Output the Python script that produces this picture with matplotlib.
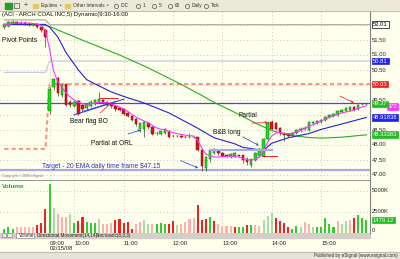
import matplotlib
matplotlib.use("Agg")
import matplotlib.pyplot as plt
import numpy as np
from matplotlib.transforms import blended_transform_factory

plt.rcParams["font.family"] = ["Liberation Sans", "DejaVu Sans"]

W, H = 400, 259

# 5-minute bars: 11 from the previous session, then 02/15/08 9:30-15:55
bar_open = [51.92, 51.98, 52.05, 52.10, 52.05, 52.08, 52.05, 52.00, 52.03, 51.93, 51.85,
            49.15, 49.92, 50.22, 49.68, 50.03, 49.45, 49.31, 49.47, 49.32, 49.22,
            49.30, 49.38, 49.43, 49.50, 49.44, 49.38, 49.31, 49.22, 49.20, 49.08,
            48.98, 48.86, 48.55, 48.52, 48.75, 48.60, 48.40, 48.36, 48.40, 48.48,
            48.30, 48.29, 48.30, 48.28, 48.27, 48.28, 48.26, 47.85, 47.25, 47.55,
            47.75, 47.80, 47.72, 47.66, 47.62, 47.64, 47.66, 47.66, 47.55, 47.33,
            47.50, 47.62, 47.65, 48.20, 48.78, 48.75, 48.58, 48.38, 48.36, 48.32,
            48.40, 48.50, 48.55, 48.50, 48.72, 48.75, 48.78, 48.82, 48.93, 48.98,
            49.00, 49.10, 49.14, 49.17, 49.26, 49.20, 49.36, 49.38]
bar_high = [52.05, 52.15, 52.17, 52.15, 52.12, 52.12, 52.10, 52.08, 52.06, 51.97, 51.88,
            49.92, 50.25, 50.28, 50.05, 50.05, 49.50, 49.50, 49.50, 49.36, 49.38,
            49.50, 49.52, 49.76, 49.55, 49.48, 49.42, 49.34, 49.25, 49.22, 49.12,
            49.00, 48.90, 48.75, 48.80, 48.78, 48.62, 48.44, 48.48, 48.56, 48.50,
            48.33, 48.32, 48.32, 48.30, 48.40, 48.30, 48.28, 47.88, 47.65, 47.88,
            47.90, 47.84, 47.76, 47.70, 47.74, 47.76, 47.68, 47.68, 47.60, 47.55,
            47.78, 47.90, 48.25, 48.80, 48.82, 48.78, 48.60, 48.42, 48.40, 48.43,
            48.53, 48.60, 48.62, 48.80, 48.80, 48.84, 48.87, 48.97, 49.03, 49.06,
            49.14, 49.21, 49.27, 49.30, 49.30, 49.36, 49.40, 49.40]
bar_low = [51.88, 51.95, 52.02, 52.00, 52.02, 52.00, 51.97, 51.98, 51.90, 51.78, 51.28,
           49.05, 49.85, 49.65, 49.60, 49.30, 49.28, 49.28, 49.00, 49.15, 49.18,
           49.28, 49.35, 49.40, 49.38, 49.30, 49.25, 49.15, 49.12, 49.00, 48.93,
           48.80, 48.65, 48.45, 48.28, 48.55, 48.33, 48.35, 48.33, 48.37, 48.25,
           48.26, 48.26, 48.25, 48.24, 48.22, 48.22, 47.80, 47.15, 47.15, 47.45,
           47.70, 47.68, 47.60, 47.60, 47.58, 47.60, 47.62, 47.40, 47.35, 47.28,
           47.48, 47.60, 47.60, 48.15, 48.50, 48.50, 48.35, 48.15, 48.27, 48.28,
           48.37, 48.45, 48.50, 48.48, 48.68, 48.70, 48.74, 48.80, 48.90, 48.95,
           48.98, 49.07, 49.12, 49.15, 49.14, 49.18, 49.34, 49.36]
bar_close = [52.02, 52.10, 52.10, 52.05, 52.08, 52.04, 52.00, 52.05, 51.93, 51.82, 51.60,
             49.87, 50.20, 49.72, 50.00, 49.33, 49.32, 49.45, 49.03, 49.20, 49.36,
             49.45, 49.50, 49.52, 49.42, 49.35, 49.30, 49.20, 49.17, 49.05, 48.97,
             48.84, 48.70, 48.72, 48.78, 48.60, 48.38, 48.39, 48.45, 48.52, 48.28,
             48.29, 48.30, 48.28, 48.27, 48.28, 48.26, 47.85, 47.30, 47.60, 47.85,
             47.87, 47.72, 47.65, 47.64, 47.70, 47.72, 47.65, 47.50, 47.42, 47.52,
             47.75, 47.85, 48.20, 48.75, 48.55, 48.55, 48.40, 48.35, 48.30, 48.40,
             48.50, 48.55, 48.58, 48.76, 48.76, 48.80, 48.82, 48.94, 49.00, 49.02,
             49.12, 49.18, 49.24, 49.27, 49.16, 49.33, 49.37, 49.37]

# volume in thousands, tone: G up, g light up, R down, r light down
volume_k = [400, 675, 475, 675, 600, 600, 600, 675, 875, 1190, 2780,
            5760, 2860, 2260, 1790, 1900, 2220, 1190, 1390, 1900, 1270,
            1110, 1190, 1590, 990, 990, 1190, 1470, 1590, 1110, 1270,
            475, 1070, 1270, 1430, 1070, 1070, 990, 1190, 1070, 1070,
            1390, 875, 1070, 1270, 1590, 1670, 3300, 1510, 1590, 1900,
            1390, 990, 795, 795, 795, 600, 675, 600, 875, 875,
            875, 795, 1470, 1985, 2380, 1710, 1390, 1190, 600, 475,
            795, 675, 1270, 1070, 675, 600, 600, 1670, 1070, 675,
            1390, 990, 1390, 1510, 1670, 2060, 1670, 1479.12]
volume_tone = ("GGGrrrrrRRRGgrrrgGRRGGGgrrrRRRRRrrggrGGGRRgrrrrRRRGRrrrrRGGRGrrggg"
               "RRRRGGgrrgGGGGGrggrRGGG")

# fast average (magenta), one value per bar
fast_avg = [52.00, 52.02, 52.05, 52.06, 52.07, 52.07, 52.06, 52.05, 52.03, 51.98, 51.82,
            51.20, 50.45, 50.12, 49.92, 49.74, 49.60, 49.50, 49.42, 49.38, 49.36,
            49.37, 49.40, 49.42, 49.42, 49.40, 49.37, 49.32, 49.27, 49.20, 49.12,
            49.02, 48.93, 48.86, 48.80, 48.74, 48.65, 48.57, 48.53, 48.50, 48.45,
            48.41, 48.38, 48.35, 48.33, 48.31, 48.30, 48.15, 47.90, 47.70, 47.64,
            47.60, 47.60, 47.61, 47.62, 47.62, 47.61, 47.60, 47.56, 47.51, 47.49,
            47.53, 47.60, 47.80, 48.10, 48.30, 48.40, 48.42, 48.39, 48.37, 48.39,
            48.43, 48.48, 48.55, 48.62, 48.68, 48.73, 48.80, 48.86, 48.92, 48.98,
            49.03, 49.07, 49.10, 49.13, 49.17, 49.22, 49.27, 49.31]
# medium average (blue) and slow average (green), read at selected bars
mid_bars = [0, 10, 11, 13, 15, 18, 20, 23, 26, 29, 34, 40, 47, 51, 56, 58, 63, 65, 69, 74, 77, 82, 88]
mid_avg = [52.02, 52.02, 51.93, 51.60, 51.08, 50.50, 50.18, 49.97, 49.77, 49.62, 49.40, 49.07,
           48.56, 48.24, 48.04, 47.92, 47.82, 48.06, 48.24, 48.38, 48.52, 48.70, 48.92]
slow_bars = [0, 10, 11, 18, 28, 35, 43, 48, 51, 54, 57, 61, 65, 69, 74, 77, 82, 88]
slow_avg = [52.02, 51.99, 51.95, 51.55, 51.00, 50.57, 50.02, 49.65, 49.42, 49.22, 49.02,
            48.73, 48.48, 48.33, 48.25, 48.23, 48.26, 48.34]

# pivot levels: previous session -> today
pivot_top = [52.17, 52.01]
pivot_r1 = [50.42, 50.80]
pivot_pp = [47.87, 50.03]

hour_bars = [11, 17, 29, 41, 53, 65, 77]
hour_labels = ["09:00", "10:00", "11:00", "12:00", "13:00", "14:00", "15:00"]
price_ticks = [47.0, 47.5, 48.0, 48.5, 49.5, 50.5, 51.0, 51.5]

BG = "#ffffee"
X0, X1 = -1.045, 88.87

fig = plt.figure(figsize=(W / 100, H / 100), dpi=100, facecolor=BG)


def frac(x0, y0, x1, y1):
    return [x0 / W, 1 - y1 / H, (x1 - x0) / W, (y1 - y0) / H]


# pixel-space layer for window chrome
bg = fig.add_axes([0, 0, 1, 1], zorder=0)
bg.set_xlim(0, W)
bg.set_ylim(H, 0)
bg.axis("off")
bg.add_patch(plt.Rectangle((0, 0), W, 10.5, color="#ece9d8"))
bg.plot([0, W], [10.5, 10.5], color="#c0bcb0", lw=0.6)
bg.add_patch(plt.Rectangle((5, 2.5), 7, 6, color="#2a9a2a"))
bg.add_patch(plt.Rectangle((14, 3), 5, 5, fc="none", ec="#555555", lw=0.5))
bg.text(26, 5.5, "+", fontsize=5, ha="center", va="center", color="#333333")
for fx in (33, 65):
    bg.add_patch(plt.Rectangle((fx, 3.5), 5, 4, color="#e8c860"))
tb = dict(fontsize=3.4, va="center", color="#333333")
bg.text(41, 5.5, "Equities", **tb)
bg.text(60, 5.5, "\u2022", **tb)
bg.text(73, 5.5, "Other Intervals", **tb)
bg.text(107, 5.5, "\u2022", **tb)
for cx, lab in [(116, "IDC"), (138, "1"), (154, "5"), (170, "60"), (187, "Daily"), (206, "Tick")]:
    bg.plot(cx, 5.5, "o", mfc="none", mec="#555555", ms=3, mew=0.5)
    bg.text(cx + 4.5, 5.5, lab, **tb)

# tabs row, time axis, status bar
bg.add_patch(plt.Rectangle((0, 232.5), 370, 5.5, color="#d4d0c8"))
bg.add_patch(plt.Rectangle((1.5, 233.3), 4.5, 4, fc="#eeeeee", ec="#777777", lw=0.4))
bg.add_patch(plt.Rectangle((7, 233.3), 4.5, 4, fc="#eeeeee", ec="#777777", lw=0.4))
bg.add_patch(plt.Rectangle((16, 233), 18, 4.8, fc="#ffffff", ec="#777777", lw=0.4))
tab = dict(fontsize=3.3, va="center", color="#222222")
bg.text(19, 235.4, "Volume", **tab)
bg.text(37, 235.4, "Directional Movement(14,14)", **tab)
bg.text(96, 235.4, "Stochastic(8,3,3)", **tab)
bg.add_patch(plt.Rectangle((0, 251.5), W, 7.5, color="#e6e3da"))
bg.plot([0, W], [251.5, 251.5], color="#b8b4a8", lw=0.6)
bg.text(398, 255.5, "Published by eSignal (www.esignal.com)", fontsize=3.3,
        ha="right", va="center", color="#333333")
for hb, lab in zip(hour_bars, hour_labels):
    px = 4.3 + 4.115 * hb
    bg.text(px, 243.5, lab, fontsize=4.3, va="center", color="#222222")
bg.text(4.3 + 4.115 * hour_bars[0], 249, "02/15/08", fontsize=4.3, va="center", color="#222222")

# price panel
ax = fig.add_axes(frac(0, 11, 370, 178.5), zorder=2)
ax.set_facecolor(BG)
ax.set_xlim(X0, X1)
ax.set_ylim(48 + (145 - 178.5) / 30, 48 + (145 - 11) / 30)
for s in ax.spines.values():
    s.set_visible(False)
ax.spines["right"].set_visible(True)
ax.spines["right"].set_color("#808080")
ax.spines["right"].set_linewidth(0.8)
ax.spines["top"].set_visible(True)
ax.spines["top"].set_color("#b0b0b0")
ax.spines["top"].set_linewidth(0.6)
ax.set_xticks([])
ax.set_yticks([])

for p in np.arange(47.0, 52.01, 0.5):
    ax.axhline(p, color="#b8b8b8", lw=0.6, ls=(0, (1, 3)), zorder=1)
for hb in hour_bars:
    ax.axvline(hb, color="#b8b8b8", lw=0.6, ls=(0, (1, 3)), zorder=1)

# pivot steps
step_x = [0, 10, 11, X1]
ax.plot(step_x, [pivot_top[0], pivot_top[0], pivot_top[1], pivot_top[1]], color="#b4ac98", lw=0.9, zorder=2)
ax.plot(step_x, [pivot_r1[0], pivot_r1[0], pivot_r1[1], pivot_r1[1]], color="#c8c8e8", lw=0.9, zorder=2)
ax.plot(step_x, [pivot_pp[0], pivot_pp[0], pivot_pp[1], pivot_pp[1]], color="#ff9080", lw=1.5,
        ls=(0, (2, 1.5)), zorder=2)
ax.axhline(49.39, color="#4848e0", lw=0.9, zorder=2)
ax.axhline(47.17, color="#a8a8f0", lw=1.6, zorder=2)

idx = np.arange(len(bar_open))
ax.plot(slow_bars, slow_avg, color="#22b022", lw=0.8, zorder=3)
ax.plot(mid_bars, mid_avg, color="#2222dd", lw=0.8, zorder=3)
ax.plot(idx, fast_avg, color="#ff33ff", lw=0.8, zorder=6)

o, hi, lo, c = (np.array(v) for v in (bar_open, bar_high, bar_low, bar_close))
up = c > o + 0.005
dn = c < o - 0.005
flat = ~(up | dn)
ax.vlines(idx, lo, hi, color="#404040", lw=0.5, zorder=4)
ax.bar(idx[up], (c - o)[up], bottom=o[up], width=0.62, color="#18e018", edgecolor="#107010",
       lw=0.35, zorder=5)
ax.bar(idx[dn], (o - c)[dn], bottom=c[dn], width=0.62, color="#e01010", edgecolor="#801010",
       lw=0.35, zorder=5)
ax.hlines(c[flat], idx[flat] - 0.35, idx[flat] + 0.35, color="#303030", lw=0.7, zorder=5)

# annotations
ann = dict(fontsize=4.8, color="#111111", zorder=8)
ax.text(-0.6, 51.47, "Pivot Points", va="center", **ann)
ax.text(16.0, 48.80, "Bear flag BO", va="center", **ann)
ax.text(21.1, 48.05, "Partial at ORL", va="center", **ann)
ax.text(50.7, 48.42, "B&B long", va="center", **ann)
ax.text(56.8, 48.98, "Partial", va="center", **ann)
ax.text(9.2, 47.28, "Target - 20 EMA daily time frame $47.15", va="center", fontsize=4.8,
        color="#3333cc", zorder=8)
ax.text(-0.6, 46.97, "Copyright \u00a9 2008 eSignal", va="center", fontsize=2.6, color="#777777", zorder=8)
ax.text(-0.6, 52.35, "(ACI - ARCH COAL INC,5) Dynamic(9:30-16:00", va="center", fontsize=4.3,
        color="#111111", zorder=8)

ax.plot([16.9, 29.1], [49.00, 49.53], color="#2233ee", lw=0.7, zorder=7)
ax.plot([19.0, 27.0], [49.12, 49.45], color="#2233ee", lw=0.5, zorder=7)
ax.plot([23.3, 27.6], [49.56, 49.56], color="#ee2222", lw=0.7, zorder=7)
ax.plot([50.0, 65.0], [47.88, 47.88], color="#a8a8ee", lw=0.8, zorder=7)
ax.plot([50.0, 65.0], [47.84, 47.84], color="#a8a8ee", lw=0.8, zorder=7)
ax.plot([62.6, 66.3], [47.63, 47.63], color="#ee2222", lw=0.7, zorder=7)


def arrow(tail, head, color):
    ax.annotate("", xy=head, xytext=tail, zorder=8,
                arrowprops=dict(arrowstyle="->", color=color, lw=0.6, ls=(0, (2, 1)),
                                shrinkA=0, shrinkB=0, mutation_scale=4))


arrow((23.3, 49.07), (26.2, 49.43), "#ee2222")
arrow((30.1, 48.37), (33.2, 48.50), "#2244ee")
arrow((42.9, 47.48), (47.1, 47.23), "#2244ee")
arrow((58.0, 48.27), (61.9, 47.98), "#2244ee")
arrow((60.2, 48.73), (64.1, 48.75), "#ee2222")
arrow((81.6, 49.63), (85.0, 49.40), "#ee2222")

# right price scale
tr = blended_transform_factory(ax.transAxes, ax.transData)
lab = dict(fontsize=4.2, va="center", transform=tr, clip_on=False, zorder=9)
for p in price_ticks:
    ax.text(1.006, p, f"{p:.2f}", color="#222222", **lab)


def box(xa, price, text, fc, tc):
    ax.text(xa, price, text, color=tc,
            bbox=dict(boxstyle="square,pad=0.15", fc=fc, ec=fc if fc != "#ffffff" else "#000000",
                      lw=0.5), **lab)


box(1.008, 52.01, "52.01", "#ffffff", "#000000")
box(1.008, 50.80, "50.81", "#2222ee", "#ffffff")
box(1.008, 50.03, "50.03", "#ee2020", "#ffffff")
box(1.047, 49.29, "972", "#ff33ff", "#ffffff")
box(1.008, 49.37, "49.37", "#22bb22", "#ffffff")
box(1.008, 48.91, "48.91838", "#2222ee", "#ffffff")
box(1.008, 48.34, "48.33383", "#22bb22", "#ffffff")

# volume panel
av = fig.add_axes(frac(0, 180, 370, 232.5), zorder=2)
av.set_facecolor(BG)
av.set_xlim(X0, X1)
av.set_ylim(0, (232.5 - 180) / 8.4 * 1000)
for s in av.spines.values():
    s.set_visible(False)
av.spines["right"].set_visible(True)
av.spines["right"].set_color("#808080")
av.spines["right"].set_linewidth(0.8)
av.spines["top"].set_visible(True)
av.spines["top"].set_color("#808080")
av.spines["top"].set_linewidth(0.6)
av.set_xticks([])
av.set_yticks([])
for v in (2500, 5000):
    av.axhline(v, color="#b8b8b8", lw=0.6, ls=(0, (1, 3)), zorder=1)
for hb in hour_bars:
    av.axvline(hb, color="#b8b8b8", lw=0.6, ls=(0, (1, 3)), zorder=1)
tone_color = {"G": "#33cc33", "g": "#a8dca8", "R": "#ee2222", "r": "#ffb0a8"}
av.bar(idx, volume_k, width=0.5, color=[tone_color[t] for t in volume_tone], zorder=3)
av.text(0.005, 0.88, "Volume", transform=av.transAxes, fontsize=4.6, color="#22aa22",
        fontweight="bold", va="center")
trv = blended_transform_factory(av.transAxes, av.transData)
vlab = dict(fontsize=4.2, va="center", transform=trv, clip_on=False, zorder=9)
av.text(1.006, 5000, "5000K", color="#222222", **vlab)
av.text(1.006, 2500, "2500K", color="#222222", **vlab)
av.text(1.006, 200, "0", color="#222222", **vlab)
av.text(1.008, volume_k[-1], f"{volume_k[-1]:.2f}", color="#ffffff",
        bbox=dict(boxstyle="square,pad=0.15", fc="#22bb22", ec="#22bb22", lw=0.5), **vlab)

fig.savefig("out.png", dpi=100, facecolor=BG)
